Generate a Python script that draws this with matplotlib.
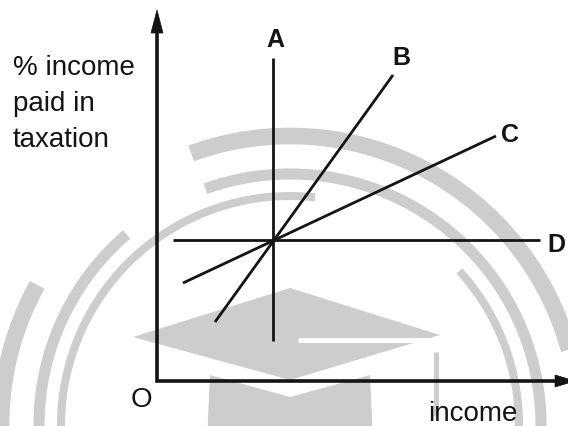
import numpy as np
import matplotlib
matplotlib.use("Agg")
import matplotlib.pyplot as plt
from matplotlib.patches import Polygon

# tax schedules A-D, all passing through the same point;
# units are measured from the origin O of the diagram
schedules = ["A", "B", "C", "D"]
sched_x = [[116, 116], [58, 236], [26, 339], [16, 383]]
sched_y = [[40, 323], [59, 306], [98, 245], [141, 141]]

ylabel_lines = ["% income", "paid in", "taxation"]
xlabel = "income"
origin_label = "O"

INK = "#141414"
WM = "#cdcdcd"
FONT = "Liberation Sans"

fig = plt.figure(figsize=(5.68, 4.26), dpi=100)
ax = fig.add_axes([0, 0, 1, 1])
ax.set_xlim(-157, 411)
ax.set_ylim(-45, 381)
ax.axis("off")

# faint logo in the background: three broken rings and a mortarboard
cx, cy = 133, -44
rings = [
    (289, 12.0, [(151, 186), (-6, 110)]),
    (251, 8.0, [(130.6, 186), (-6, 109.7)]),
    (229, 5.8, [(83.7, 186), (-6, 42.3)]),
]
for r, lw, spans in rings:
    for a0, a1 in spans:
        t = np.radians(np.linspace(a0, a1, 200))
        ax.plot(cx + r * np.cos(t), cy + r * np.sin(t), color=WM, lw=lw,
                solid_capstyle="butt", zorder=0)

ax.add_patch(Polygon([(-24, 44), (133, 93), (283, 46), (133, 1)],
                     closed=True, fc=WM, ec="none", zorder=0))
ax.add_patch(Polygon([(53, 6), (133, -16), (213, 6), (216, -60), (50, -60)],
                     closed=True, fc=WM, ec="none", zorder=0))
ax.plot([143, 288], [41, 41], color="white", lw=3.6, solid_capstyle="round", zorder=1)
ax.plot([279, 279], [29, -35], color=WM, lw=3.6, solid_capstyle="butt", zorder=0)

# axes with arrow heads
ax.plot([0, 0, 398], [348, 0, 0], color=INK, lw=2.6,
        solid_joinstyle="miter", solid_capstyle="butt", zorder=3)
ax.fill([-6, 6, 0], [348, 348, 371], color=INK, lw=0.5, zorder=3)
ax.fill([398, 398, 418], [-6, 6, 0], color=INK, lw=0.5, zorder=3)

for name, xs, ys in zip(schedules, sched_x, sched_y):
    ax.plot(xs, ys, color=INK, lw=2.0, solid_capstyle="butt", zorder=3)

label_pos = {"A": (118.5, 334), "B": (244, 316), "C": (353, 239), "D": (399, 129)}
for name in schedules:
    x, y = label_pos[name]
    ax.text(x, y, name, ha="center", va="baseline", fontsize=18,
            fontweight="bold", family=FONT, color=INK, zorder=4)

for i, line in enumerate(ylabel_lines):
    ax.text(-144, 306 - 36 * i, line, ha="left", va="baseline",
            fontsize=20, family=FONT, color=INK, zorder=4)

ax.text(-16, -26, origin_label, ha="center", va="baseline", fontsize=20,
        family=FONT, color=INK, zorder=4)
ax.text(271, -40, xlabel, ha="left", va="baseline", fontsize=20,
        family=FONT, color=INK, zorder=4)

fig.savefig("out.png", dpi=100)
